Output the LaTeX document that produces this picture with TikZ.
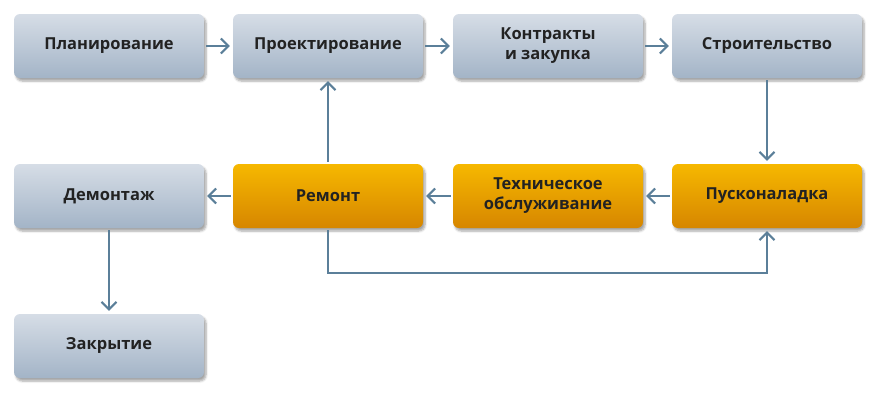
\documentclass[tikz,border=0pt]{standalone}
\usepackage{fontspec}
\setmainfont{Open Sans}
\usetikzlibrary{arrows.meta,shadows.blur}
\definecolor{arr}{HTML}{5B7F99}
\definecolor{gtop}{HTML}{D6DDE6}
\definecolor{gbot}{HTML}{A3B4C7}
\definecolor{otop}{HTML}{F6B800}
\definecolor{obot}{HTML}{D68600}
\definecolor{txt}{HTML}{222222}
\tikzset{
  box/.style={minimum width=190pt,minimum height=64pt,rounded corners=6pt,
    align=center,font=\bfseries\fontsize{16.5}{20}\selectfont,text=txt,
    blur shadow={shadow xshift=2pt,shadow yshift=-3pt,shadow blur steps=6,shadow opacity=35}},
  gbox/.style={box,top color=gtop,bottom color=gbot},
  obox/.style={box,top color=otop,bottom color=obot},
  conn/.style={draw=arr,line width=2pt,-{Straight Barb[length=7.5pt,width=15pt,line width=2pt]}}
}
\begin{document}
\begin{tikzpicture}[x=1pt,y=1pt]
\useasboundingbox (0,0) rectangle (889,-405);
\node[gbox] (plan) at (109,-46) {Планирование};
\node[gbox] (proj) at (328,-46) {Проектирование};
\node[gbox] (contr) at (548,-46) {Контракты\\и закупка};
\node[gbox] (build) at (767,-46) {Строительство};
\node[gbox] (demo) at (109,-196) {Демонтаж};
\node[obox] (rep) at (328,-196) {Ремонт};
\node[obox] (tech) at (548,-196) {Техническое\\обслуживание};
\node[obox] (pusk) at (767,-196) {Пусконаладка};
\node[gbox] (close) at (109,-346) {Закрытие};
\draw[conn] ([xshift=2pt]plan.east) -- ([xshift=-3pt]proj.west);
\draw[conn] ([xshift=2pt]proj.east) -- ([xshift=-3pt]contr.west);
\draw[conn] ([xshift=2pt]contr.east) -- ([xshift=-3pt]build.west);
\draw[conn] ([yshift=-2pt]build.south) -- ([yshift=3pt]pusk.north);
\draw[conn] ([xshift=-2pt]pusk.west) -- ([xshift=3pt]tech.east);
\draw[conn] ([xshift=-2pt]tech.west) -- ([xshift=3pt]rep.east);
\draw[conn] ([xshift=-2pt]rep.west) -- ([xshift=3pt]demo.east);
\draw[conn] ([yshift=2pt]rep.north) -- ([yshift=-3pt]proj.south);
\draw[conn] ([yshift=-2pt]demo.south) -- ([yshift=3pt]close.north);
\coordinate (c1) at (328,-273);
\coordinate (c2) at (767,-273);
\draw[conn] ([yshift=-2pt]rep.south) -- (c1) -- (c2) -- ([yshift=-3pt]pusk.south);
\end{tikzpicture}
\end{document}
